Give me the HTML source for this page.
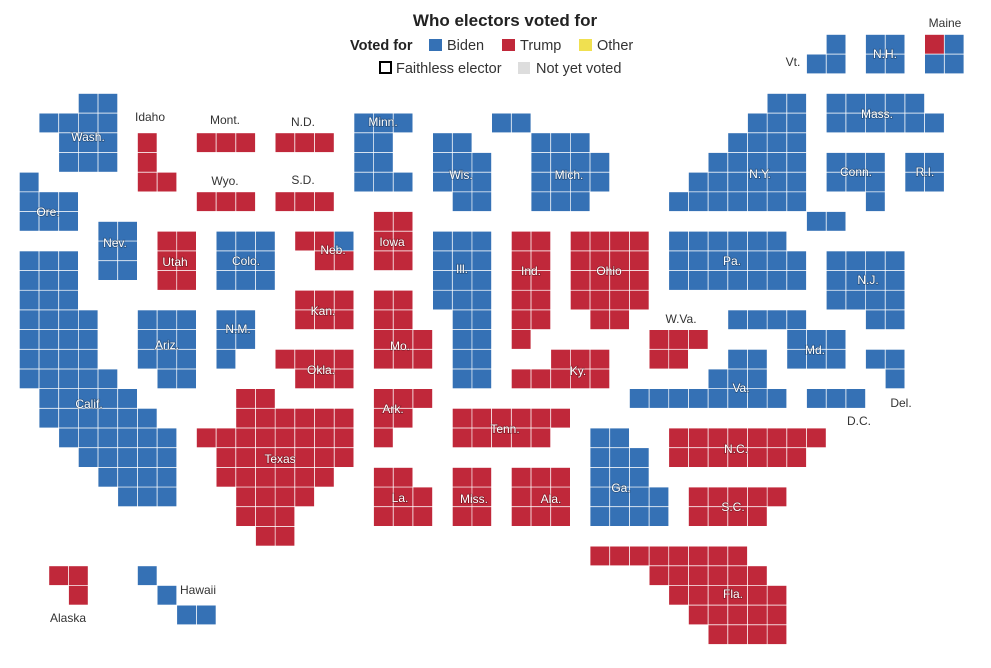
<!DOCTYPE html>
<html><head><meta charset="utf-8">
<style>
body{margin:0;background:#fff;width:991px;height:668px;overflow:hidden;font-family:"Liberation Sans",Arial,sans-serif}
svg{position:absolute;left:0;top:0}
.w{fill:#fff;font-size:12px;text-anchor:middle;paint-order:stroke;stroke:rgba(0,0,0,0.3);stroke-width:1.4px}
.d{fill:#333;font-size:12px;text-anchor:middle}
.l{fill:#333;font-size:14.5px}
</style></head><body>
<svg id="s" width="991" height="668" xmlns="http://www.w3.org/2000/svg">
<g id="cells"></g>
<text x="505" y="26" style="font-size:17px;font-weight:bold;fill:#222" text-anchor="middle">Who electors voted for</text>
<text x="350" y="50" class="l" style="font-weight:bold;fill:#222">Voted for</text>
<rect x="429" y="39" width="13" height="12" fill="#3571b5"/><text x="447" y="50" class="l">Biden</text>
<rect x="502" y="39" width="13" height="12" fill="#c0283a"/><text x="520" y="50" class="l">Trump</text>
<rect x="579" y="39" width="13" height="12" fill="#f0e050"/><text x="597" y="50" class="l">Other</text>
<rect x="380" y="62" width="11" height="11" fill="none" stroke="#000" stroke-width="2"/><text x="396" y="73" class="l">Faithless elector</text>
<rect x="518" y="62" width="12" height="12" fill="#ddd"/><text x="536" y="73" class="l">Not yet voted</text>
<g>
<text class="w" x="88" y="141">Wash.</text><text class="w" x="48" y="216">Ore.</text>
<text class="w" x="115" y="247">Nev.</text><text class="w" x="175" y="266">Utah</text>
<text class="w" x="246" y="265">Colo.</text><text class="w" x="333" y="254">Neb.</text>
<text class="w" x="392" y="246">Iowa</text><text class="w" x="383" y="126">Minn.</text>
<text class="w" x="461" y="179">Wis.</text><text class="w" x="569" y="179">Mich.</text>
<text class="w" x="462" y="273">Ill.</text><text class="w" x="531" y="275">Ind.</text>
<text class="w" x="609" y="275">Ohio</text><text class="w" x="323" y="315">Kan.</text>
<text class="w" x="321" y="374">Okla.</text><text class="w" x="400" y="350">Mo.</text>
<text class="w" x="167" y="349">Ariz.</text><text class="w" x="238" y="333">N.M.</text>
<text class="w" x="89" y="408">Calif.</text><text class="w" x="280" y="463">Texas</text>
<text class="w" x="393" y="413">Ark.</text><text class="w" x="505" y="433">Tenn.</text>
<text class="w" x="578" y="375">Ky.</text><text class="w" x="400" y="502">La.</text>
<text class="w" x="474" y="503">Miss.</text><text class="w" x="551" y="503">Ala.</text>
<text class="w" x="621" y="492">Ga.</text><text class="w" x="736" y="453">N.C.</text>
<text class="w" x="733" y="511">S.C.</text><text class="w" x="733" y="598">Fla.</text>
<text class="w" x="760" y="178">N.Y.</text><text class="w" x="877" y="118">Mass.</text>
<text class="w" x="856" y="176">Conn.</text><text class="w" x="925" y="176">R.I.</text>
<text class="w" x="732" y="265">Pa.</text><text class="w" x="868" y="284">N.J.</text>
<text class="w" x="815" y="354">Md.</text><text class="w" x="741" y="392">Va.</text>
<text class="w" x="885" y="58">N.H.</text>
<text class="d" x="150" y="121">Idaho</text><text class="d" x="225" y="124">Mont.</text>
<text class="d" x="303" y="126">N.D.</text><text class="d" x="225" y="185">Wyo.</text>
<text class="d" x="303" y="184">S.D.</text><text class="d" x="681" y="323">W.Va.</text>
<text class="d" x="859" y="425">D.C.</text><text class="d" x="901" y="407">Del.</text>
<text class="d" x="68" y="622">Alaska</text><text class="d" x="198" y="594">Hawaii</text>
<text class="d" x="793" y="66">Vt.</text><text class="d" x="945" y="27">Maine</text>
</g>
</svg>
<script>
var B="#3571b5",R="#c0283a";
var S=[
[3,3,4,B],[4,1,4,B],[5,2,4,B],[6,2,4,B],
[5,6,6,R],[6,6,6,R],[7,6,7,R],
[5,9,11,R],[5,13,15,R],[8,9,11,R],[8,13,15,R],
[4,17,19,B],[5,17,18,B],[6,17,18,B],[7,17,19,B],
[7,0,0,B],[8,0,2,B],[9,0,2,B],
[9.5,4,5,B],[10.5,4,5,B],[11.5,4,5,B],
[10,7,8,R],[11,7,8,R],[12,7,8,R],
[10,10,12,B],[11,10,12,B],[12,10,12,B],
[10,14,15,R],[10,16,16,B],[11,15,16,R],
[9,18,19,R],[10,18,19,R],[11,18,19,R],
[11,0,2,B],[12,0,2,B],[13,0,2,B],[14,0,3,B],[15,0,3,B],[16,0,3,B],[17,0,4,B],[18,1,5,B],[19,1,6,B],[20,2,7,B],[21,3,7,B],[22,4,7,B],[23,5,7,B],
[14,6,8,B],[15,6,8,B],[16,6,8,B],[17,7,8,B],
[14,10,11,B],[15,10,11,B],[16,10,10,B],
[13,14,16,R],[14,14,16,R],[16,13,16,R],[17,14,16,R],
[18,11,12,R],[19,11,16,R],[20,9,16,R],[21,10,16,R],[22,10,15,R],[23,11,14,R],[24,11,13,R],[25,12,13,R],
[13,18,19,R],[14,18,19,R],[15,18,20,R],[16,18,20,R],
[18,18,20,R],[19,18,19,R],[20,18,18,R],
[22,18,19,R],[23,18,20,R],[24,18,20,R],
[5,21,22,B],[6,21,23,B],[7,21,23,B],[8,22,23,B],
[4,24,25,B],[5,26,28,B],[6,26,29,B],[7,26,29,B],[8,26,28,B],
[10,21,23,B],[11,21,23,B],[12,21,23,B],[13,21,23,B],[14,22,23,B],[15,22,23,B],[16,22,23,B],[17,22,23,B],
[10,25,26,R],[11,25,26,R],[12,25,26,R],[13,25,26,R],[14,25,26,R],[15,25,25,R],
[10,28,31,R],[11,28,31,R],[12,28,31,R],[13,28,31,R],[14,29,30,R],
[16,27,29,R],[17,25,29,R],
[19,22,27,R],[20,22,26,R],
[22,22,23,R],[23,22,23,R],[24,22,23,R],
[22,25,27,R],[23,25,27,R],[24,25,27,R],
[20,29,30,B],[21,29,31,B],[22,29,31,B],[23,29,32,B],[24,29,32,B],
[3,38,39,B],[4,37,39,B],[5,36,39,B],[6,35,39,B],[7,34,39,B],[8,33,39,B],[9,40,41,B],
[3,41,45,B],[4,41,46,B],[6,41,43,B],[7,41,43,B],[8,43,43,B],[6,45,46,B],[7,45,46,B],
[10,33,38,B],[11,33,39,B],[12,33,39,B],
[11,41,44,B],[12,41,44,B],[13,41,44,B],[14,43,44,B],
[15,32,34,R],[16,32,33,R],
[14,36,39,B],[15,39,41,B],[16,39,41,B],
[16,36,37,B],[17,35,37,B],[18,31,38,B],
[18,40,42,B],[16,43,44,B],[17,44,44,B],
[20,33,40,R],[21,33,39,R],[23,34,38,R],[24,34,37,R],
[26,29,36,R],[27,32,37,R],[28,33,38,R],[29,34,38,R],[30,35,38,R],
[27,1.5,2.5,R],[28,2.5,2.5,R],[27,6,6,B],[28,7,7,B],[29,8,9,B],
[0,41,41,B],[1,40,41,B],[0,43,44,B],[1,43,44,B],[0,46,46,R],[0,47,47,B],[1,46,47,B]
];
var g=document.getElementById("cells"),h="",st=19.68;
S.forEach(function(s){for(var c=s[1];c<=s[2]+0.01;c++){var x=19.3+c*st,y=34.4+s[0]*st;
h+='<rect x="'+(x+0.4).toFixed(1)+'" y="'+(y+0.4).toFixed(1)+'" width="18.9" height="18.9" fill="'+s[3]+'"/>';}});
g.innerHTML=h;
</script>
</body></html>
